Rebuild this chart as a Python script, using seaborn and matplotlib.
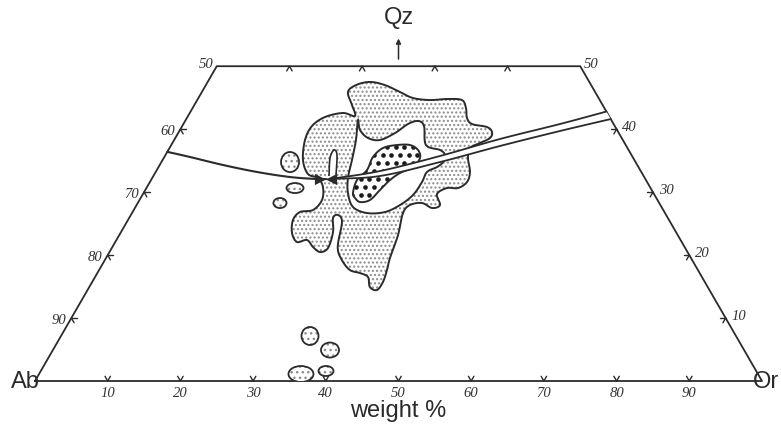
import numpy as np
import pandas as pd
import matplotlib
matplotlib.use("Agg")
import matplotlib.pyplot as plt
from matplotlib.patches import Polygon, Ellipse
import seaborn as sns

sns.set_theme(style="white")
plt.rcParams['font.family'] = ['Liberation Sans', 'DejaVu Sans']
plt.rcParams['hatch.linewidth'] = 1.0

# ---------------- data (weight %: Or, Qz ; Ab = 100 - Or - Qz) ----------------
tick_values = [10, 20, 30, 40, 50, 60, 70, 80, 90]
left_ticks_qz = [10, 20, 30, 40]          # labelled with Ab
right_ticks_qz = [10, 20, 30, 40]         # labelled with Qz
top_ticks_or = [10, 20, 30, 40]

outer_or = [20.1, 20.65, 22.33, 24.64, 27.26, 29.52, 32.0, 34.28, 36.4, 37.6, 38.54, 39.7,
            42.0, 43.09, 43.29, 42.31, 41.33, 41.85, 43.23, 43.62, 42.86, 41.35, 40.45, 41.73,
            40.87, 39.1, 37.6, 37.28, 38.34, 39.06, 39.6, 40.0, 39.8, 38.6, 37.54, 36.13, 34.5,
            32.6, 31.0, 29.6, 28.5, 28.05, 29.16, 29.74, 28.96, 27.6, 26.21, 25.0, 23.6, 22.7,
            23.03, 24.66, 25.1, 24.2, 22.81, 21.11, 19.31, 18.0, 17.85, 18.93, 21.08, 22.97, 21.68]
outer_qz = [45.9, 47.0, 47.5, 47.0, 45.9, 44.95, 44.63, 44.79, 44.63, 43.36, 41.77, 40.82,
            40.34, 39.55, 38.6, 37.8, 37.0, 35.42, 33.2, 31.6, 30.65, 30.65, 29.7, 27.95,
            27.48, 28.27, 27.95, 26.68, 23.19, 19.54, 17.63, 15.72, 14.45, 14.93, 16.52, 17.15, 17.63,
            19.22, 21.28, 25.25, 26.37, 25.89, 23.67, 21.12, 20.49, 21.28, 22.4, 22.08, 23.51, 25.57,
            26.84, 27.16, 28.75, 30.81, 32.24, 32.88, 35.1, 38.28, 40.5, 41.93, 42.57, 42.09, 43.84]

middle_or = [23.7, 24.77, 26.5, 28.31, 29.83, 30.9, 32.03, 33.26, 35.04, 37.37, 38.45, 38.73,
             38.3, 37.32, 37.43, 37.22, 36.23, 34.72, 32.33, 29.92, 28.12, 26.93, 26.05, 25.01]
middle_qz = [41.45, 39.87, 38.6, 38.28, 39.39, 40.82, 41.3, 40.5, 37.48, 36.69, 35.9, 34.78,
             33.99, 33.2, 31.61, 29.54, 27.95, 26.84, 26.68, 27.64, 29.86, 32.24, 35.1, 38.28]

inner_or = [28.81, 28.33, 28.91, 28.7, 29.37, 31.05, 32.84, 34.34, 35.25, 35.0, 33.69, 32.87,
            32.28, 31.7, 30.49, 29.49]
inner_qz = [29.86, 31.92, 33.51, 35.58, 37.01, 37.48, 37.48, 36.69, 35.42, 33.99, 33.04, 31.92,
            30.34, 28.75, 28.43, 29.07]

slit_or = [24.16, 22.87, 22.78, 23.59, 25.12]
slit_qz = [32.56, 35.42, 36.69, 35.9, 32.56]

# small isolated fields: centre (Or, Qz), half-width, half-height (diagram units)
small_or = [17.69, 20.44, 19.56, 34.25, 38.12, 39.23, 36.03]
small_qz = [34.78, 30.65, 28.27, 7.15, 4.92, 1.59, 1.11]
small_w = [1.24, 1.17, 0.9, 1.17, 1.24, 1.03, 1.72]
small_h = [1.38, 0.69, 0.69, 1.24, 1.03, 0.69, 1.1]

# cotectic (boundary) line
cot_or = [0.0, 3.53, 8.71, 13.94, 18.88, 22.75, 24.0]
cot_qz = [36.4, 35.58, 34.31, 33.2, 32.4, 32.08, 32.08]
band_up_or = [24.54, 30.78, 37.84, 44.74, 51.8, 57.2]
band_up_qz = [32.08, 33.35, 35.74, 38.44, 40.82, 42.8]
band_lo_or = [24.54, 31.17, 38.32, 45.3, 52.36, 58.39]
band_lo_qz = [32.08, 32.56, 34.78, 37.33, 39.71, 41.61]
minimum_or = [23.2, 24.65]
minimum_qz = [32.08, 32.1]

# ---------------- helpers ----------------
S3 = np.sqrt(3) / 2


def tern(o, q):
    o = np.asarray(o, float)
    q = np.asarray(q, float)
    return o + q / 2, q * S3


def cr(P, n, closed):
    P = np.asarray(P, float)
    if not closed:
        P = np.vstack([2 * P[0] - P[1], P, 2 * P[-1] - P[-2]])
    m = len(P)
    out = []
    rng = range(m) if closed else range(1, m - 2)
    t = np.linspace(0, 1, n, endpoint=False)[:, None]
    for i in rng:
        p0, p1, p2, p3 = P[(i - 1) % m], P[i], P[(i + 1) % m], P[(i + 2) % m]
        out.append(0.5 * ((2 * p1) + (-p0 + p2) * t + (2 * p0 - 5 * p1 + 4 * p2 - p3) * t ** 2
                          + (-p0 + 3 * p1 - 3 * p2 + p3) * t ** 3))
    if not closed:
        out.append(P[-2][None, :])
    return np.vstack(out)


INK = '#2b2b2b'
STIP = '#8c8c8c'

fig = plt.figure(figsize=(7.81, 4.34), dpi=100)
ax = fig.add_axes([0, 0, 1, 1])
ax.set_xlim(-4.81, 102.61)
ax.set_ylim(-7.29, 52.41)
ax.set_aspect('equal')
ax.axis('off')

# triangle frame (truncated at Qz = 50)
frame_or = [0, 100, 50, 0, 0]
frame_qz = [0, 0, 50, 50, 0]
fx, fy = tern(frame_or, frame_qz)
frame = pd.DataFrame({'x': fx, 'y': fy})
sns.lineplot(data=frame, x='x', y='y', sort=False, estimator=None, color=INK, lw=1.3, ax=ax)
tri_clip = Polygon(np.column_stack([fx, fy]), closed=True, facecolor='none', edgecolor='none')
ax.add_patch(tri_clip)


def blob(o, q, face='white', hatch=None, hcol=STIP, lw=1.4, z=2):
    x, y = tern(o, q)
    pts = cr(np.column_stack([x, y]), 10, True)
    ax.add_patch(Polygon(pts, closed=True, facecolor=face, edgecolor='none', zorder=z))
    if hatch:
        ax.add_patch(Polygon(pts, closed=True, facecolor='none', edgecolor=hcol, hatch=hatch,
                             lw=0, zorder=z + 0.1))
    p = Polygon(pts, closed=True, facecolor='none', edgecolor=INK, lw=lw, zorder=z + 0.2)
    ax.add_patch(p)
    return p


blob(outer_or, outer_qz, hatch='....', z=2)
sx, sy = tern(slit_or, slit_qz)
spts = cr(np.column_stack([sx, sy]), 8, False)
ax.add_patch(Polygon(spts, closed=False, facecolor='white', edgecolor=INK, lw=1.2, zorder=2.5))
blob(middle_or, middle_qz, z=3)
inner_patch = blob(inner_or, inner_qz, z=4)

# coarse dots of the inner field
gx, gy = [], []
for r, yy in enumerate(np.arange(25.6, 34.0, 1.1)):
    off = 0.6 * (r % 2)
    for xx in np.arange(40.0 + off, 55.0, 1.2):
        gx.append(xx)
        gy.append(yy)
dots = ax.scatter(gx, gy, s=11, color='#1a1a1a', zorder=4.1, linewidths=0)
dots.set_clip_path(inner_patch)

# small isolated fields
for o, q, w, h in zip(small_or, small_qz, small_w, small_h):
    cx, cy = tern(o, q)
    e = Ellipse((cx, cy), 2 * w, 2 * h, facecolor='white', edgecolor='none', zorder=2)
    ax.add_patch(e)
    e.set_clip_path(tri_clip)
    e2 = Ellipse((cx, cy), 2 * w, 2 * h, facecolor='none', edgecolor=STIP, hatch='...',
                 lw=0, zorder=2.1)
    ax.add_patch(e2)
    e2.set_clip_path(tri_clip)
    e3 = Ellipse((cx, cy), 2 * w, 2 * h, facecolor='none', edgecolor=INK, lw=1.3, zorder=2.2)
    ax.add_patch(e3)
    e3.set_clip_path(tri_clip)

# cotectic curve
cx_, cy_ = tern(cot_or, cot_qz)
cpts = cr(np.column_stack([cx_, cy_]), 12, False)
cot = pd.DataFrame({'x': cpts[:, 0], 'y': cpts[:, 1]})
sns.lineplot(data=cot, x='x', y='y', sort=False, estimator=None, color=INK, lw=1.5, ax=ax, zorder=6)

ux, uy = tern(band_up_or, band_up_qz)
lx, ly = tern(band_lo_or, band_lo_qz)
up = cr(np.column_stack([ux, uy]), 12, False)
lo = cr(np.column_stack([lx, ly]), 12, False)
ax.add_patch(Polygon(np.vstack([up, lo[::-1]]), closed=True, facecolor='white', edgecolor='none',
                     zorder=5.5))
for arr in (up, lo):
    sns.lineplot(x=arr[:, 0], y=arr[:, 1], sort=False, estimator=None, color=INK, lw=1.3, ax=ax,
                 zorder=6)

mx, my = tern(minimum_or, minimum_qz)
ax.scatter([mx[0]], [my[0]], marker='>', s=65, color=INK, zorder=7, linewidths=0)
ax.scatter([mx[1]], [my[1]], marker='<', s=65, color=INK, zorder=7, linewidths=0)

# ticks
TL = 0.75
d_up_left = np.array([-0.5, S3])
d_up_right = np.array([0.5, S3])
d_right = np.array([1.0, 0.0])
d_left = np.array([-1.0, 0.0])
d_down_left = np.array([-0.5, -S3])
d_down_right = np.array([0.5, -S3])


def tick(px, py, dirs):
    for d in dirs:
        ax.plot([px, px + TL * d[0]], [py, py + TL * d[1]], color=INK, lw=1.0, zorder=5)


tick_font = dict(family=['Liberation Serif', 'DejaVu Serif'], style='italic', fontsize=10.5,
                 color='#333333')
for v in tick_values:
    px, py = tern(v, 0)
    tick(px, py, [d_up_left, d_up_right])
    ax.text(px, py - 1.75, str(v), ha='center', va='center', **tick_font)

for q in left_ticks_qz:
    px, py = tern(0, q)
    tick(px, py, [d_right, d_down_right])
    ax.text(px - 0.75, py - 0.35, str(100 - q), ha='right', va='center', **tick_font)

for q in right_ticks_qz:
    px, py = tern(100 - q, q)
    tick(px, py, [d_left, d_down_left])
    ax.text(px + 0.8, py + 0.25, str(q), ha='left', va='center', **tick_font)

for o in top_ticks_or:
    px, py = tern(o, 50)
    tick(px, py, [d_down_left, d_down_right])

tlx, tly = tern(0, 50)
ax.text(tlx - 0.5, tly + 0.3, '50', ha='right', va='center', **tick_font)
trx, try_ = tern(50, 50)
ax.text(trx + 0.5, try_ + 0.3, '50', ha='left', va='center', **tick_font)

# apex arrow and corner labels
ax.annotate('', xy=(50, 47.5), xytext=(50, 43.9),
            arrowprops=dict(arrowstyle='-|>', color=INK, lw=1.1, mutation_scale=7), zorder=6)
lab = dict(fontsize=17, color='#2a2a2a')
ax.text(50, 49.9, 'Qz', ha='center', va='center', **lab)
ax.text(-1.3, -0.2, 'Ab', ha='center', va='center', **lab)
ax.text(100.5, -0.2, 'Or', ha='center', va='center', **lab)
ax.text(50, -4.1, 'weight %', ha='center', va='center', **lab)

fig.savefig('out.png', dpi=100, facecolor='white')
